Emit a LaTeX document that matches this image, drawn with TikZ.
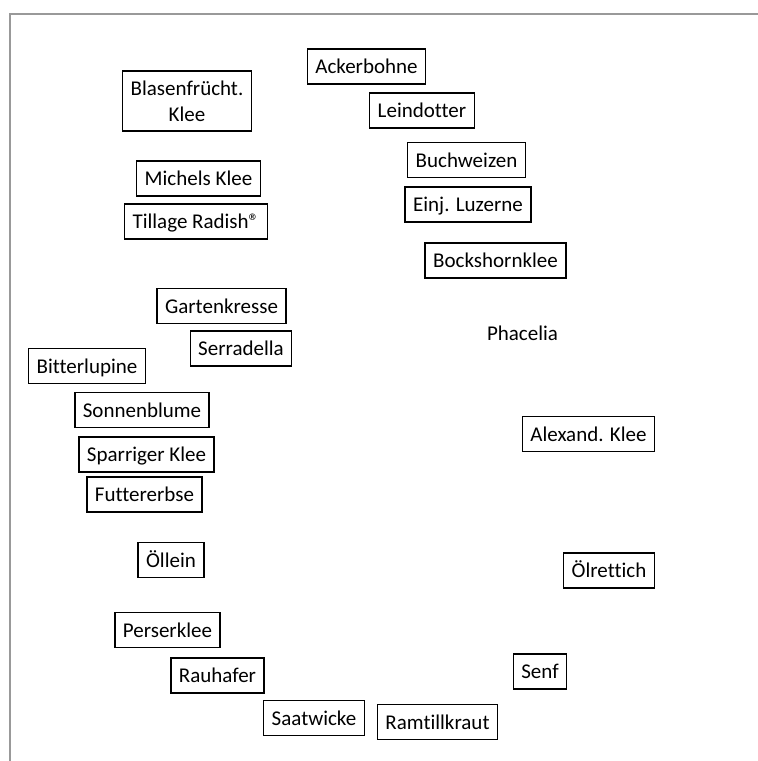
\documentclass[tikz,border=0pt]{standalone}
\usepackage{fontspec}
\setmainfont[Ligatures=CommonOff]{Carlito}
\begin{document}
\begin{tikzpicture}[
x=1pt, y=-1pt,
every node/.style={font=\fontsize{21}{26}\selectfont, align=center, inner xsep=8pt, inner ysep=0pt, minimum height=35pt, text height=16pt, text depth=2pt},
plant/.style={draw, line width=1.4pt},
frame/.style={draw=gray!80, line width=2pt}
]
\useasboundingbox (0,0) rectangle (758,761);

\draw[frame] (9.5,761) -- (9.5,13.5) -- (758,13.5);

\node (blasen) [plant, minimum height=60pt, text height={}, text depth={}] at (187,101) {Blasenfrücht.\\Klee};
\node (michels) [plant] at (198.5,178.5) {Michels Klee};
\node (tillage) [plant] at (196,221.5) {Tillage Radish®};

\node (acker) [plant] at (366.5,66.5) {Ackerbohne};
\node (leindotter) [plant] at (422,110.5) {Leindotter};
\node (buchweizen) [plant] at (466.5,160) {Buchweizen};
\node (luzerne) [plant] at (468,204.5) {Einj. Luzerne};
\node (bockshorn) [plant] at (495.5,260.5) {Bockshornklee};

\node (kresse) [plant] at (221.5,306) {Gartenkresse};
\node (serradella) [plant] at (241,348.5) {Serradella};
\node (phacelia) at (522.5,333) {Phacelia};

\node (bitterlupine) [plant] at (87,366) {Bitterlupine};
\node (sonnenblume) [plant] at (142,410) {Sonnenblume};
\node (sparriger) [plant] at (146.5,454.5) {Sparriger Klee};
\node (futtererbse) [plant] at (144.5,494.5) {Futtererbse};
\node (alexand) [plant] at (588.5,434) {Alexand. Klee};

\node (oellein) [plant] at (171,560) {Öllein};
\node (oelrettich) [plant] at (609,570.5) {Ölrettich};
\node (perserklee) [plant] at (167.5,630) {Perserklee};
\node (rauhafer) [plant] at (217.5,675.5) {Rauhafer};
\node (senf) [plant] at (540,671.5) {Senf};
\node (saatwicke) [plant] at (314,718) {Saatwicke};
\node (ramtill) [plant] at (437.5,722) {Ramtillkraut};

\end{tikzpicture}
\end{document}
